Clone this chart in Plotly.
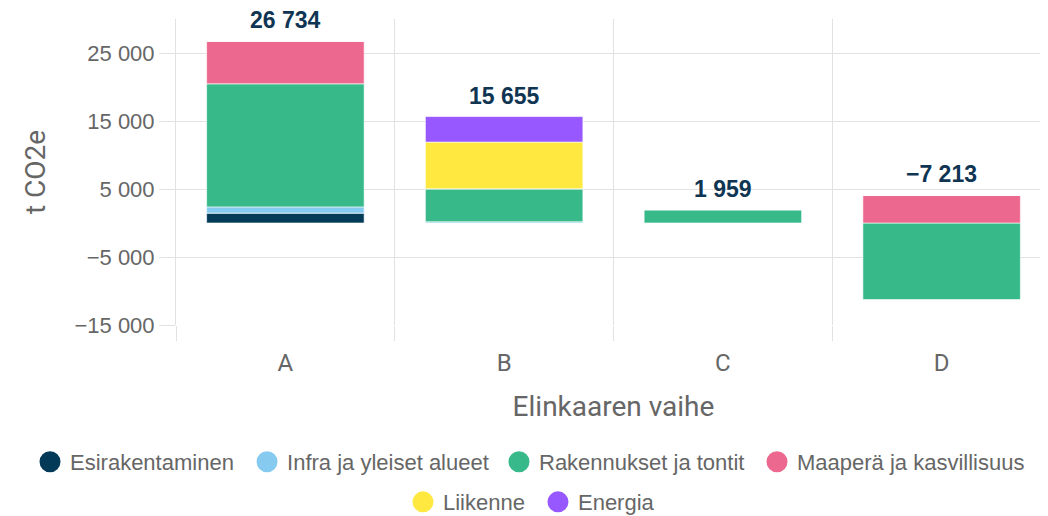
import plotly.graph_objects as go

categories = ["A", "B", "C", "D"]
series_names = ["Esirakentaminen", "Infra ja yleiset alueet", "Rakennukset ja tontit",
                "Maaperä ja kasvillisuus", "Liikenne", "Energia"]
esirakentaminen = [1450, 0, 0, 0]
infra = [920, 180, 0, 0]
rakennukset = [18100, 4850, 1959, -11263]
maapera = [6264, 0, 0, 4050]
liikenne = [0, 6870, 0, 0]
energia = [0, 3755, 0, 0]
colors = ["#023a58", "#86caf0", "#37b98a", "#ec688e", "#ffe83f", "#9758ff"]

series = [esirakentaminen, infra, rakennukset, maapera, liikenne, energia]

totals = [sum(s[i] for s in series) for i in range(len(categories))]
pos_tops = [sum(max(s[i], 0) for s in series) for i in range(len(categories))]

# legend layout: one single-entry legend per series (container fractions)
legend_ids = ["legend", "legend2", "legend3", "legend4", "legend5", "legend6"]
legend_x = [0.0210, 0.2281, 0.4685, 0.7147, 0.3769, 0.5057]
legend_y = [0.1202, 0.1202, 0.1202, 0.1202, 0.0426, 0.0426]


def fmt(v):
    s = f"{abs(v):,}".replace(",", " ")
    return ("\u2212" if v < 0 else "") + s


fig = go.Figure()
for name, vals, col in zip(series_names, series, colors):
    fig.add_trace(go.Bar(
        x=categories, y=vals, name=name, marker_color=col,
        marker_line=dict(color="rgba(255,255,255,0.6)", width=1),
        showlegend=False, hoverinfo="x+y+name"))

# legend entries (circle symbols)
for name, col, lg in zip(series_names, colors, legend_ids):
    fig.add_trace(go.Scatter(
        x=[None], y=[None], mode="markers", name=name, legend=lg,
        marker=dict(symbol="circle", size=16, color=col, line=dict(color=col, width=5)),
        showlegend=True))

# total labels
for cat, top, tot in zip(categories, pos_tops, totals):
    fig.add_annotation(
        x=cat, y=top, text=fmt(tot), showarrow=False, yanchor="bottom", yshift=6,
        font=dict(family="Liberation Sans, Arial, sans-serif", size=23, color="#0f3553", weight="bold"))

grid = "#e2e2e2"
title_font = "Roboto, Liberation Sans, sans-serif"
legends = {}
for lg, lx, ly in zip(legend_ids, legend_x, legend_y):
    legends[lg] = dict(orientation="h", xref="container", yref="container", x=lx, xanchor="left",
                       y=ly, yanchor="middle", font=dict(size=22, color="#666666"),
                       itemsizing="trace", bgcolor="rgba(0,0,0,0)", borderwidth=0)

fig.update_layout(
    width=1048, height=516,
    barmode="relative", bargap=0.28,
    separators=". ",
    plot_bgcolor="white", paper_bgcolor="white",
    margin=dict(l=168, r=5, t=11, b=199, autoexpand=False),
    font=dict(family="Liberation Sans, Arial, sans-serif", color="#666666"),
    xaxis=dict(
        type="category", tickson="boundaries", showgrid=True, gridcolor=grid,
        ticks="outside", ticklen=15, tickcolor=grid, range=[-0.5, 3.5], automargin=False,
        ticklabelstandoff=21,
        tickfont=dict(family=title_font, size=24, color="#666666"),
        title=dict(text="Elinkaaren vaihe", standoff=20,
                   font=dict(family=title_font, size=28, color="#666666")),
        showline=False, zeroline=False),
    yaxis=dict(
        range=[-15000, 30000], tick0=-15000, dtick=10000, tickformat=",d",
        showgrid=True, gridcolor=grid, ticks="outside", ticklen=16, tickcolor=grid,
        zeroline=False, showline=True, linecolor=grid, linewidth=1, automargin=False,
        tickfont=dict(size=22, color="#666666"),
        title=dict(text="t CO2e", standoff=20,
                   font=dict(family=title_font, size=28, color="#666666"))),
    **legends,
)

fig.write_html("out.html")
